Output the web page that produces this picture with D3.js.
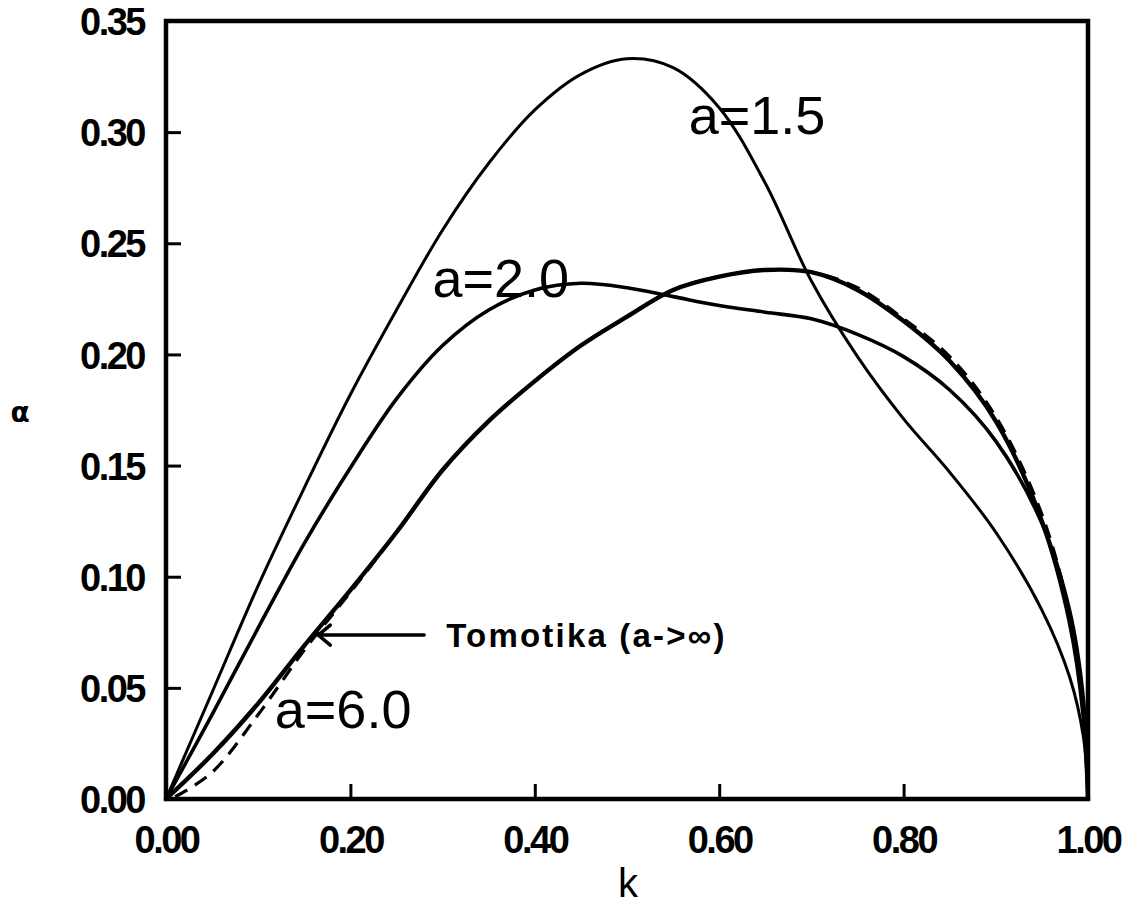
<!DOCTYPE html>
<html>
<head>
<meta charset="utf-8">
<script src="https://cdn.jsdelivr.net/npm/d3@7"></script>
<style>
  html, body { margin: 0; padding: 0; background: #fff; }
  svg { display: block; }
</style>
</head>
<body>
<svg id="chart" width="1135" height="922"></svg>
<script>
// Wavenumber samples shared by every curve
const kValues = [0, 0.05, 0.10, 0.15, 0.20, 0.25, 0.30, 0.35, 0.40, 0.45, 0.50,
                 0.55, 0.60, 0.65, 0.70, 0.75, 0.80, 0.85, 0.90, 0.95, 0.98, 0.995, 1.00];

// Growth rate for each viscosity ratio a
const rateA15 = [0, 0.048, 0.096, 0.140, 0.182, 0.220, 0.256, 0.286, 0.310, 0.326, 0.333,
                 0.329, 0.311, 0.277, 0.233, 0.199, 0.171, 0.147, 0.120, 0.085, 0.055, 0.028, 0];
const rateA20 = [0, 0.038, 0.077, 0.115, 0.149, 0.180, 0.204, 0.220, 0.229, 0.232, 0.230,
                 0.226, 0.222, 0.219, 0.216, 0.209, 0.199, 0.184, 0.161, 0.124, 0.085, 0.045, 0];
const rateA60 = [0, 0.020, 0.043, 0.069, 0.094, 0.120, 0.148, 0.170, 0.188, 0.204, 0.217,
                 0.229, 0.235, 0.238, 0.237, 0.229, 0.215, 0.197, 0.170, 0.125, 0.080, 0.038, 0];
// Tomotika's limit (a -> infinity), drawn dashed
const kTomotika = [0.01, 0.05, 0.10, 0.15, 0.20, 0.25, 0.30, 0.35, 0.40, 0.45, 0.50,
                   0.55, 0.60, 0.65, 0.70, 0.75, 0.80, 0.85, 0.90, 0.95, 0.98, 0.995, 1.00];
const rateTomotika = [0.001, 0.012, 0.038, 0.067, 0.093, 0.120, 0.148, 0.170, 0.188, 0.204, 0.217,
                      0.229, 0.235, 0.238, 0.237, 0.230, 0.216, 0.199, 0.172, 0.128, 0.083, 0.040, 0];

// Axis ticks
const xTicks = [0, 0.2, 0.4, 0.6, 0.8, 1.0];
const yTicks = [0, 0.05, 0.10, 0.15, 0.20, 0.25, 0.30, 0.35];

// Curve labels: text and anchor point in data units
const curveLabels = [
  { text: "a=1.5", k: 0.567, v: 0.299 },
  { text: "a=2.0", k: 0.289, v: 0.226 },
  { text: "a=6.0", k: 0.118, v: 0.032 }
];
// Arrow pointing at the Tomotika curve
const arrowNote = { text: "Tomotika (a->\u221E)", kTip: 0.163, kTail: 0.28 };

const svg = d3.select("#chart");
const plot = { left: 166, right: 1088, top: 21, bottom: 799 };

const x = d3.scaleLinear().domain([0, 1]).range([plot.left, plot.right]);
const y = d3.scaleLinear().domain([0, 0.35]).range([plot.bottom, plot.top]);

const line = d3.line()
  .x(d => x(d[0]))
  .y(d => y(d[1]))
  .curve(d3.curveCatmullRom.alpha(0.5));

const zipSeries = (ks, vs) => ks.map((k, i) => [k, vs[i]]);

// Curves
const g = svg.append("g").attr("fill", "none").attr("stroke", "#000")
  .attr("stroke-linejoin", "round").attr("stroke-linecap", "round");
g.append("path").datum(zipSeries(kTomotika, rateTomotika))
  .attr("d", line).attr("stroke-width", 3.2).attr("stroke-dasharray", "14,9")
  .attr("stroke-linecap", "butt");
g.append("path").datum(zipSeries(kValues, rateA15))
  .attr("d", line).attr("stroke-width", 3);
g.append("path").datum(zipSeries(kValues, rateA20))
  .attr("d", line).attr("stroke-width", 3.6);
g.append("path").datum(zipSeries(kValues, rateA60))
  .attr("d", line).attr("stroke-width", 4.4);

// Axes with inward ticks
const xAxis = d3.axisBottom(x).tickValues(xTicks).tickSizeInner(-15).tickSizeOuter(0)
  .tickFormat(d3.format(".2f"));
const yAxis = d3.axisLeft(y).tickValues(yTicks).tickSizeInner(-15).tickSizeOuter(0)
  .tickFormat(d3.format(".2f"));

const gx = svg.append("g").attr("transform", `translate(0,${plot.bottom})`).call(xAxis);
const gy = svg.append("g").attr("transform", `translate(${plot.left},0)`).call(yAxis);

[gx, gy].forEach(ax => {
  ax.select(".domain").remove();
  ax.selectAll(".tick line").attr("stroke", "#000").attr("stroke-width", 3);
  ax.selectAll(".tick text")
    .attr("fill", "#000")
    .style("font-family", "'Liberation Sans', Arial, sans-serif")
    .style("font-weight", "bold")
    .style("font-size", "38px")
    .style("letter-spacing", "-2.5px");
});
gx.selectAll(".tick text").attr("y", 27).attr("dy", "0.71em");
gy.selectAll(".tick text").attr("x", -22).attr("dy", "0.36em");
// ticks sitting on the frame edges are covered by the frame itself
gx.selectAll(".tick line").filter(d => d === 0 || d === 1).remove();
gy.selectAll(".tick line").filter(d => d === 0 || d === 0.35).remove();

// Frame
svg.append("rect")
  .attr("x", plot.left).attr("y", plot.top)
  .attr("width", plot.right - plot.left).attr("height", plot.bottom - plot.top)
  .attr("fill", "none").attr("stroke", "#000").attr("stroke-width", 4.5);

// Axis titles
svg.append("text").attr("x", (plot.left + plot.right) / 2 + 1).attr("y", 897)
  .attr("text-anchor", "middle")
  .style("font-family", "'Liberation Sans', Arial, sans-serif")
  .style("font-size", "40px").text("k");
svg.append("text").attr("x", 20).attr("y", 412).attr("text-anchor", "middle")
  .attr("dominant-baseline", "central")
  .style("font-family", "'DejaVu Sans', sans-serif").style("font-weight", "bold")
  .style("font-size", "28px").text("\u03B1");

// Curve labels
svg.append("g").selectAll("text").data(curveLabels).join("text")
  .attr("x", d => x(d.k)).attr("y", d => y(d.v))
  .style("font-family", "'Liberation Sans', Arial, sans-serif")
  .style("font-size", "54px")
  .attr("fill", "#000")
  .text(d => d.text);

// Tomotika annotation arrow, tip placed on the dashed curve
const tipIdx = d3.bisectLeft(kTomotika, arrowNote.kTip);
const k0 = kTomotika[tipIdx - 1], k1 = kTomotika[tipIdx];
const v0 = rateTomotika[tipIdx - 1], v1 = rateTomotika[tipIdx];
const vTip = v0 + (v1 - v0) * (arrowNote.kTip - k0) / (k1 - k0);
const ax0 = x(arrowNote.kTip), ay = y(vTip), ax1 = x(arrowNote.kTail);
const arrow = svg.append("g").attr("stroke", "#000").attr("stroke-width", 3.5)
  .attr("fill", "none").attr("stroke-linecap", "round");
arrow.append("line").attr("x1", ax0 + 2).attr("y1", ay).attr("x2", ax1).attr("y2", ay);
arrow.append("path").attr("d", `M${ax0 + 14},${ay - 10} L${ax0 + 2},${ay} L${ax0 + 14},${ay + 10}`);
svg.append("text").attr("x", ax1 + 22).attr("y", ay).attr("dy", "0.36em")
  .style("font-family", "'Liberation Sans', Arial, sans-serif")
  .style("font-weight", "bold")
  .style("font-size", "33px").style("letter-spacing", "2.2px")
  .attr("fill", "#000")
  .text(arrowNote.text);
</script>
</body>
</html>
